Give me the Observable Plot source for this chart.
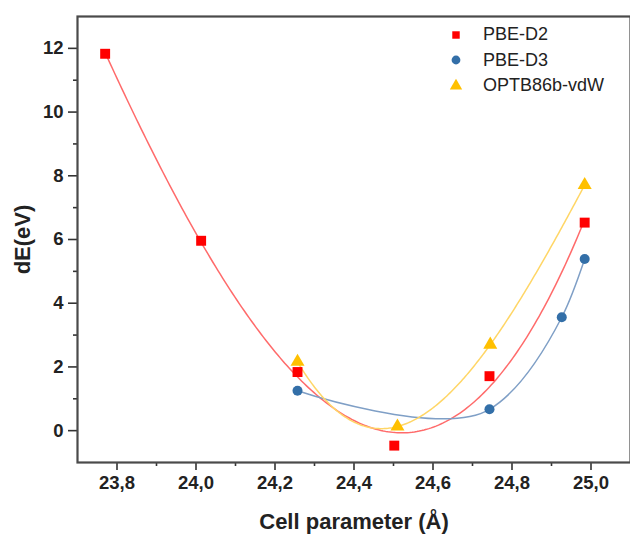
<!DOCTYPE html>
<html>
<head>
<meta charset="utf-8">
<script src="https://cdn.jsdelivr.net/npm/d3@7"></script>
<script src="https://cdn.jsdelivr.net/npm/@observablehq/plot@0.6"></script>
<style>
  body { margin: 0; background: #fff; font-family: "Liberation Sans", Arial, sans-serif; }
  #wrap { position: relative; width: 630px; height: 536px; }
  #legend { position: absolute; left: 446px; top: 22px; font-size: 18px; color: #222; line-height: 25.5px; }
  #legend .row { display: flex; align-items: center; }
  #legend svg { width: 20px; height: 20px; margin-right: 17px; }
</style>
</head>
<body>
<div id="wrap">
  <div id="chart"></div>
  <div id="legend"></div>
</div>
<script>
// Data
const seriesNames = ["PBE-D2", "PBE-D3", "OPTB86b-vdW"];
const xD2 = [23.77, 24.013, 24.257, 24.502, 24.743, 24.984];
const yD2 = [11.83, 5.96, 1.84, -0.47, 1.71, 6.53];
const xD3 = [24.257, 24.743, 24.926, 24.984];
const yD3 = [1.25, 0.67, 3.56, 5.39];
const xOpt = [24.257, 24.51, 24.745, 24.984];
const yOpt = [2.16, 0.13, 2.7, 7.71];
const yTicks = [0, 2, 4, 6, 8, 10, 12];
const yMinor = [1, 3, 5, 7, 9, 11];
const xTicks = [23.8, 24.0, 24.2, 24.4, 24.6, 24.8, 25.0];
const xMinor = [23.9, 24.1, 24.3, 24.5, 24.7, 24.9];

const colors = { "PBE-D2": "#ff0000", "PBE-D3": "#336fa8", "OPTB86b-vdW": "#ffc000" };
const lineColors = { "PBE-D2": "#ff6b6b", "PBE-D3": "#7f9fc6", "OPTB86b-vdW": "#ffd666" };
const symbols = { "PBE-D2": "square", "PBE-D3": "circle", "OPTB86b-vdW": "triangle" };
const radii = { "PBE-D2": 5.6, "PBE-D3": 5, "OPTB86b-vdW": 5.2 };

// third-order polynomial least-squares fit
function polyfit(xs, ys, deg) {
  const m = d3.mean(xs);
  const n = deg + 1;
  const A = Array.from({length: n}, () => new Array(n + 1).fill(0));
  xs.forEach((x, k) => {
    const t = x - m;
    for (let i = 0; i < n; i++) {
      for (let j = 0; j < n; j++) A[i][j] += Math.pow(t, i + j);
      A[i][n] += ys[k] * Math.pow(t, i);
    }
  });
  for (let c = 0; c < n; c++) {
    let p = c;
    for (let r = c + 1; r < n; r++) if (Math.abs(A[r][c]) > Math.abs(A[p][c])) p = r;
    [A[c], A[p]] = [A[p], A[c]];
    for (let r = 0; r < n; r++) {
      if (r === c) continue;
      const f = A[r][c] / A[c][c];
      for (let j = c; j <= n; j++) A[r][j] -= f * A[c][j];
    }
  }
  const coef = A.map((row, i) => row[n] / row[i]);
  return x => coef.reduce((s, a, i) => s + a * Math.pow(x - m, i), 0);
}
function fitCurve(xs, ys, name) {
  const f = polyfit(xs, ys, 3);
  const x0 = d3.min(xs), x1 = d3.max(xs);
  return d3.range(201).map(i => {
    const x = x0 + (x1 - x0) * i / 200;
    return {series: name, x, y: f(x)};
  });
}

const raw = [[xD2, yD2], [xD3, yD3], [xOpt, yOpt]];
const points = [];
raw.forEach(([xs, ys], s) => xs.forEach((x, i) => points.push({series: seriesNames[s], x, y: ys[i]})));
const ptsOf = name => points.filter(d => d.series === name);

const fmtX = d => d.toFixed(1).replace(".", ",");

const chart = Plot.plot({
  width: 630,
  height: 536,
  marginLeft: 77,
  marginRight: 0,
  marginTop: 16,
  marginBottom: 74,
  style: {fontFamily: '"Liberation Sans", Arial, sans-serif', background: "#fff", overflow: "visible"},
  x: {domain: [23.7, 25.1]},
  y: {domain: [-1, 13]},
  marks: [
    Plot.axisY(yTicks, {tickSize: 9, tickPadding: 5, fontSize: 18.5, fontWeight: "bold", color: "#222", stroke: "#333", strokeWidth: 1.6, label: null}),
    Plot.axisY(yMinor, {tickSize: 4, text: null, stroke: "#333", strokeWidth: 1.6, label: null}),
    Plot.axisX(xTicks, {tickSize: 8, tickPadding: 5, tickFormat: fmtX, fontSize: 18.5, fontWeight: "bold", color: "#222", stroke: "#333", strokeWidth: 1.6, label: null}),
    Plot.axisX(xMinor, {tickSize: 4, text: null, stroke: "#333", strokeWidth: 1.6, label: null}),
    Plot.line(fitCurve(xD2, yD2, "PBE-D2"), {x: "x", y: "y", stroke: lineColors["PBE-D2"], strokeWidth: 1.5}),
    Plot.line(ptsOf("PBE-D3"), {x: "x", y: "y", curve: "catmull-rom", tension: 1, stroke: lineColors["PBE-D3"], strokeWidth: 1.5}),
    Plot.line(fitCurve(xOpt, yOpt, "OPTB86b-vdW"), {x: "x", y: "y", stroke: lineColors["OPTB86b-vdW"], strokeWidth: 1.5}),
    ...seriesNames.map(name => Plot.dot(ptsOf(name), {
      x: "x", y: "y", symbol: symbols[name], r: radii[name], fill: colors[name], stroke: "none"
    })),
    Plot.frame({stroke: "#4a4a4a", strokeWidth: 2.2}),
    Plot.text(["Cell parameter (Å)"], {frameAnchor: "bottom", dy: 59, lineAnchor: "middle", textAnchor: "middle", fontSize: 22, fontWeight: "bold", fill: "#222"}),
    Plot.text(["dE(eV)"], {frameAnchor: "left", dx: -55, rotate: -90, textAnchor: "middle", lineAnchor: "middle", fontSize: 22, fontWeight: "bold", fill: "#222"})
  ]
});
document.getElementById("chart").append(chart);

// legend
const legend = document.getElementById("legend");
const symbolPaths = {
  square: d3.symbol(d3.symbolSquare, Math.PI * 4.2 * 4.2)(),
  circle: d3.symbol(d3.symbolCircle, Math.PI * 4.4 * 4.4)(),
  triangle: d3.symbol(d3.symbolTriangle, Math.PI * 4.6 * 4.6)()
};
seriesNames.forEach(name => {
  const row = document.createElement("div");
  row.className = "row";
  row.innerHTML = `<svg viewBox="-10 -10 20 20"><path d="${symbolPaths[symbols[name]]}" fill="${colors[name]}"></path></svg><span>${name}</span>`;
  legend.append(row);
});
</script>
</body>
</html>
